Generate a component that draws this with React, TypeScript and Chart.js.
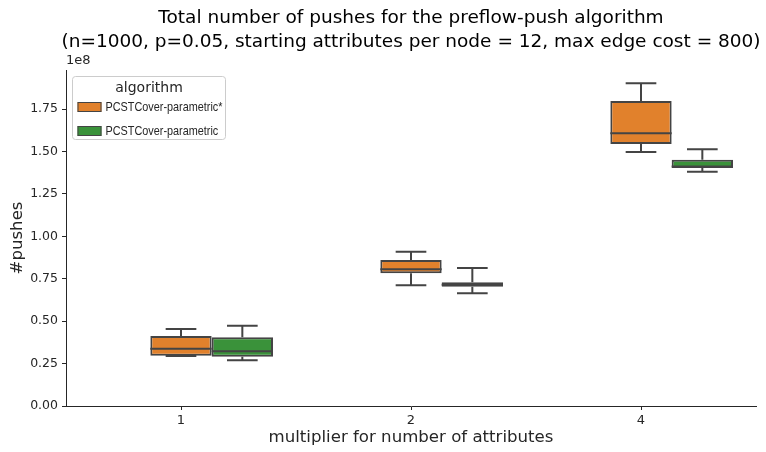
import { useEffect, useRef } from 'react';
import { Chart, registerables } from 'chart.js';

Chart.register(...registerables);

// x categories: multiplier applied to the number of attributes
const categories = ['1', '2', '4'];
const seriesLabels = ['PCSTCover-parametric*', 'PCSTCover-parametric'];
const seriesColors = ['#e1812c', '#3a923a'];

// Box-plot summaries, in units of 1e8 pushes (one value per category)
const starLow = [0.295, 0.711, 1.497];
const starQ1 = [0.296, 0.782, 1.544];
const starMedian = [0.338, 0.806, 1.607];
const starQ3 = [0.4125, 0.86, 1.797];
const starHigh = [0.454, 0.909, 1.902];

const plainLow = [0.27, 0.664, 1.381];
const plainQ1 = [0.29, 0.703, 1.402];
const plainMedian = [0.322, 0.715, 1.412];
const plainQ3 = [0.405, 0.729, 1.451];
const plainHigh = [0.473, 0.813, 1.513];

const yTicks = [0, 0.25, 0.5, 0.75, 1.0, 1.25, 1.5, 1.75];
const yMax = 1.98;

const titleLines = [
  'Total number of pushes for the preflow-push algorithm',
  '(n=1000, p=0.05, starting attributes per node = 12, max edge cost = 800)',
];
const yTitle = '#pushes';
const xTitle = 'multiplier for number of attributes';
const offsetLabel = '1e8';
const legendTitle = 'algorithm';

const EDGE = '#444444';
const TEXT = '#262626';
const SANS = '"DejaVu Sans", sans-serif';
const LEGEND_FONT = '13px "Liberation Sans", Arial, sans-serif';
const LEGEND_SQUEEZE = 0.835; // legend entries use a condensed face

type Stats = { low: number[]; q1: number[]; med: number[]; q3: number[]; high: number[] };

const statsFor: Stats[] = [
  { low: starLow, q1: starQ1, med: starMedian, q3: starQ3, high: starHigh },
  { low: plainLow, q1: plainQ1, med: plainMedian, q3: plainQ3, high: plainHigh },
];

// Whiskers, caps and medians on top of the floating Q1..Q3 bars
const whiskerPlugin = {
  id: 'whiskers',
  afterDatasetsDraw(chart: any) {
    const { ctx } = chart;
    const y = chart.scales.y;
    chart.data.datasets.forEach((ds: any, di: number) => {
      const st: Stats | undefined = ds.stats;
      if (!st) return;
      const meta = chart.getDatasetMeta(di);
      meta.data.forEach((bar: any, i: number) => {
        const { x, width } = bar.getProps(['x', 'width'], true);
        const half = width / 2;
        const cap = width / 4;
        const pLow = y.getPixelForValue(st.low[i]);
        const pQ1 = y.getPixelForValue(st.q1[i]);
        const pMed = y.getPixelForValue(st.med[i]);
        const pQ3 = y.getPixelForValue(st.q3[i]);
        const pHigh = y.getPixelForValue(st.high[i]);
        ctx.save();
        ctx.strokeStyle = EDGE;
        ctx.lineWidth = 2;
        ctx.beginPath();
        ctx.moveTo(x, pQ3);
        ctx.lineTo(x, pHigh);
        ctx.moveTo(x - cap, pHigh);
        ctx.lineTo(x + cap, pHigh);
        ctx.moveTo(x, pQ1);
        ctx.lineTo(x, pLow);
        ctx.moveTo(x - cap, pLow);
        ctx.lineTo(x + cap, pLow);
        ctx.moveTo(x - half, pMed);
        ctx.lineTo(x + half, pMed);
        ctx.stroke();
        ctx.restore();
      });
    });
  },
};

// Title, offset text and the framed legend
const decorPlugin = {
  id: 'decor',
  afterDraw(chart: any) {
    const { ctx, chartArea } = chart;
    const cx = (chartArea.left + chartArea.right) / 2;
    ctx.save();
    ctx.fillStyle = '#000';
    ctx.font = `18.5px ${SANS}`;
    ctx.textAlign = 'center';
    ctx.textBaseline = 'middle';
    ctx.fillText(titleLines[0], cx, 18);
    ctx.fillText(titleLines[1], cx, 42);

    ctx.fillStyle = TEXT;
    ctx.font = `13px ${SANS}`;
    ctx.textAlign = 'left';
    ctx.textBaseline = 'bottom';
    ctx.fillText(offsetLabel, chartArea.left, chartArea.top - 3);

    // legend frame
    const lx = chartArea.left + 6.5;
    const ly = chartArea.top + 6.5;
    const lw = 153;
    const lh = 63;
    const r = 3;
    ctx.beginPath();
    ctx.moveTo(lx + r, ly);
    ctx.arcTo(lx + lw, ly, lx + lw, ly + lh, r);
    ctx.arcTo(lx + lw, ly + lh, lx, ly + lh, r);
    ctx.arcTo(lx, ly + lh, lx, ly, r);
    ctx.arcTo(lx, ly, lx + lw, ly, r);
    ctx.closePath();
    ctx.fillStyle = 'rgba(255,255,255,0.8)';
    ctx.fill();
    ctx.strokeStyle = '#cccccc';
    ctx.lineWidth = 1;
    ctx.stroke();

    ctx.fillStyle = TEXT;
    ctx.font = `14px ${SANS}`;
    ctx.textAlign = 'center';
    ctx.textBaseline = 'middle';
    ctx.fillText(legendTitle, lx + lw / 2, ly + 12);

    const series = chart.data.datasets.filter((d: any) => d.stats);
    series.forEach((d: any, k: number) => {
      const py = ly + 25.5 + k * 24;
      ctx.fillStyle = d.backgroundColor;
      ctx.fillRect(lx + 5, py, 24, 10);
      ctx.strokeStyle = EDGE;
      ctx.lineWidth = 1;
      ctx.strokeRect(lx + 5.5, py + 0.5, 23, 9);
      ctx.fillStyle = TEXT;
      ctx.font = LEGEND_FONT;
      ctx.textAlign = 'left';
      const w = ctx.measureText(d.label).width;
      ctx.fillText(d.label, lx + 33, py + 5.5, w * LEGEND_SQUEEZE);
    });
    ctx.restore();
  },
};

export default function App() {
  const canvasRef = useRef<HTMLCanvasElement | null>(null);

  useEffect(() => {
    document.body.style.margin = '0';
    const canvas = canvasRef.current;
    if (!canvas) return;

    const boxes = statsFor.map((st, s) => ({
      label: seriesLabels[s],
      data: categories.map((_, i) => [st.q1[i], st.q3[i]]),
      backgroundColor: seriesColors[s],
      borderColor: EDGE,
      borderWidth: 2,
      borderSkipped: false,
      stats: st,
    }));

    const chart = new Chart(canvas, {
      type: 'bar',
      data: {
        labels: categories,
        datasets: [
          // empty leading slot keeps the first series centred on its tick
          { label: '', data: categories.map(() => null), backgroundColor: 'transparent' } as any,
          ...boxes,
        ],
      },
      options: {
        responsive: false,
        animation: false,
        devicePixelRatio: 1,
        layout: { padding: { top: 70, right: 10, left: 0, bottom: 0 } },
        datasets: { bar: { categoryPercentage: 0.8, barPercentage: 1.0 } },
        plugins: { legend: { display: false }, tooltip: { enabled: false }, title: { display: false } },
        scales: {
          x: {
            type: 'category',
            offset: true,
            grid: { display: true, offset: false, drawOnChartArea: false, drawTicks: true, tickLength: 4, color: TEXT, lineWidth: 1 },
            border: { display: true, color: TEXT, width: 1 },
            ticks: { color: TEXT, font: { family: SANS, size: 13 }, padding: 3 },
            title: { display: true, text: xTitle, color: TEXT, font: { family: SANS, size: 16.6 }, padding: { top: 0, bottom: 4 } },
            afterFit: (axis: any) => { axis.height = 46; },
          },
          y: {
            type: 'linear',
            min: 0,
            max: yMax,
            grid: { display: true, drawOnChartArea: false, drawTicks: true, tickLength: 4, color: TEXT, lineWidth: 1 },
            border: { display: true, color: TEXT, width: 1 },
            ticks: { color: TEXT, font: { family: SANS, size: 12.5 }, padding: 4, callback: (v: any) => Number(v).toFixed(2) },
            afterBuildTicks: (axis: any) => { axis.ticks = yTicks.map((v) => ({ value: v })); },
            title: { display: true, text: yTitle, color: TEXT, font: { family: SANS, size: 16.6 }, padding: { top: 8, bottom: 0 } },
            afterFit: (axis: any) => { axis.width = 66; },
          },
        },
      },
      plugins: [whiskerPlugin, decorPlugin],
    } as any);

    return () => chart.destroy();
  }, []);

  return (
    <div style={{ width: 766, height: 452 }}>
      <canvas ref={canvasRef} width={766} height={452} />
    </div>
  );
}
